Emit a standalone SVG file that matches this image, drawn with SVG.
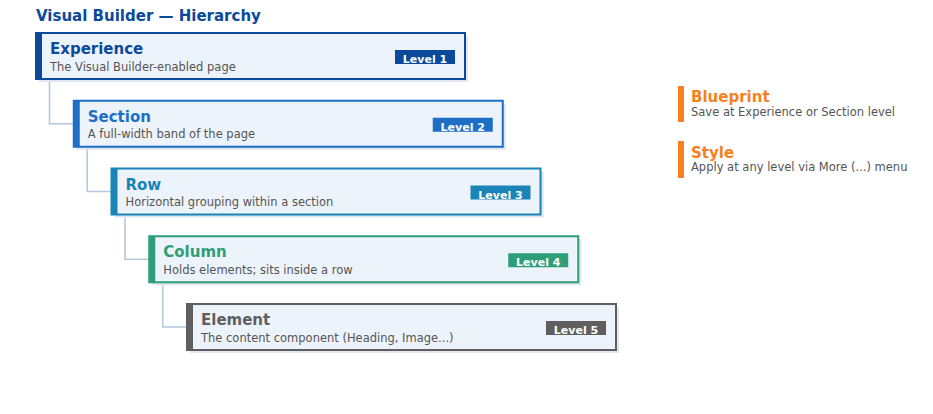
<svg xmlns="http://www.w3.org/2000/svg" width="933" height="414" viewBox="0 0 933 414">
<style>
text{font-family:"DejaVu Sans","Noto Sans",sans-serif}
.hd{font-size:15px;font-weight:bold;fill:#0b4a9a}
.shadow{fill:#dfe6ef}
.box{fill:#edf3fb;stroke-width:2}
.ttl{font-size:15px;font-weight:bold}
.sub{font-size:11.5px;fill:#555}
.badge-t{font-size:11px;font-weight:bold;fill:#fff;text-anchor:middle}
.conn{fill:none;stroke:#b4c8e0;stroke-width:1.6}
.lg-t{font-size:15px;font-weight:bold;fill:#f58220}
.lg-s{font-size:11.5px;fill:#555}
</style>
<rect width="933" height="414" fill="#fff"/>
<text class="hd" x="36" y="21">Visual Builder — Hierarchy</text>
<g id="connectors">
<path class="conn" d="M49.5 79 V123.75 H73.75"/>
<path class="conn" d="M87.25 146.75 V191.5 H111.5"/>
<path class="conn" d="M125 214.5 V259.25 H149.25"/>
<path class="conn" d="M162.75 282.25 V327 H187"/>
</g>
<g id="experience">
<rect class="shadow" x="39" y="36" width="429" height="46"/>
<rect class="box" x="36" y="33" width="429" height="46" stroke="#0b4a9a"/>
<rect x="36" y="33" width="6" height="46" fill="#0b4a9a"/>
<text class="ttl" x="50" y="54" fill="#0b4a9a">Experience</text>
<text class="sub" x="50" y="70.5">The Visual Builder-enabled page</text>
<rect x="395" y="50" width="60" height="14" fill="#0b4a9a"/>
<text class="badge-t" x="425" y="63">Level 1</text>
</g>
<g id="section">
<rect class="shadow" x="76.75" y="103.75" width="429" height="46"/>
<rect class="box" x="73.75" y="100.75" width="429" height="46" stroke="#1c6fc4"/>
<rect x="73.75" y="100.75" width="6" height="46" fill="#1c6fc4"/>
<text class="ttl" x="87.75" y="121.75" fill="#1c6fc4">Section</text>
<text class="sub" x="87.75" y="138.25">A full-width band of the page</text>
<rect x="432.75" y="117.75" width="60" height="14" fill="#1c6fc4"/>
<text class="badge-t" x="462.75" y="130.75">Level 2</text>
</g>
<g id="row">
<rect class="shadow" x="114.5" y="171.5" width="429" height="46"/>
<rect class="box" x="111.5" y="168.5" width="429" height="46" stroke="#1a84b8"/>
<rect x="111.5" y="168.5" width="6" height="46" fill="#1a84b8"/>
<text class="ttl" x="125.5" y="189.5" fill="#1a84b8">Row</text>
<text class="sub" x="125.5" y="206">Horizontal grouping within a section</text>
<rect x="470.5" y="185.5" width="60" height="14" fill="#1a84b8"/>
<text class="badge-t" x="500.5" y="198.5">Level 3</text>
</g>
<g id="column">
<rect class="shadow" x="152.25" y="239.25" width="429" height="46"/>
<rect class="box" x="149.25" y="236.25" width="429" height="46" stroke="#2e9e78"/>
<rect x="149.25" y="236.25" width="6" height="46" fill="#2e9e78"/>
<text class="ttl" x="163.25" y="257.25" fill="#2e9e78">Column</text>
<text class="sub" x="163.25" y="273.75">Holds elements; sits inside a row</text>
<rect x="508.25" y="253.25" width="60" height="14" fill="#2e9e78"/>
<text class="badge-t" x="538.25" y="266.25">Level 4</text>
</g>
<g id="element">
<rect class="shadow" x="190" y="307" width="429" height="46"/>
<rect class="box" x="187" y="304" width="429" height="46" stroke="#5f5f5f"/>
<rect x="187" y="304" width="6" height="46" fill="#5f5f5f"/>
<text class="ttl" x="201" y="325" fill="#5f5f5f">Element</text>
<text class="sub" x="201" y="341.5">The content component (Heading, Image...)</text>
<rect x="546" y="321" width="60" height="14" fill="#5f5f5f"/>
<text class="badge-t" x="576" y="334">Level 5</text>
</g>
<g id="legend-blueprint">
<rect x="678" y="86" width="6" height="36" fill="#f58220"/>
<text class="lg-t" x="691" y="102">Blueprint</text>
<text class="lg-s" x="691" y="116">Save at Experience or Section level</text>
</g>
<g id="legend-style">
<rect x="678" y="141" width="6" height="37" fill="#f58220"/>
<text class="lg-t" x="691" y="157.5">Style</text>
<text class="lg-s" x="691" y="171">Apply at any level via More (...) menu</text>
</g>
</svg>
